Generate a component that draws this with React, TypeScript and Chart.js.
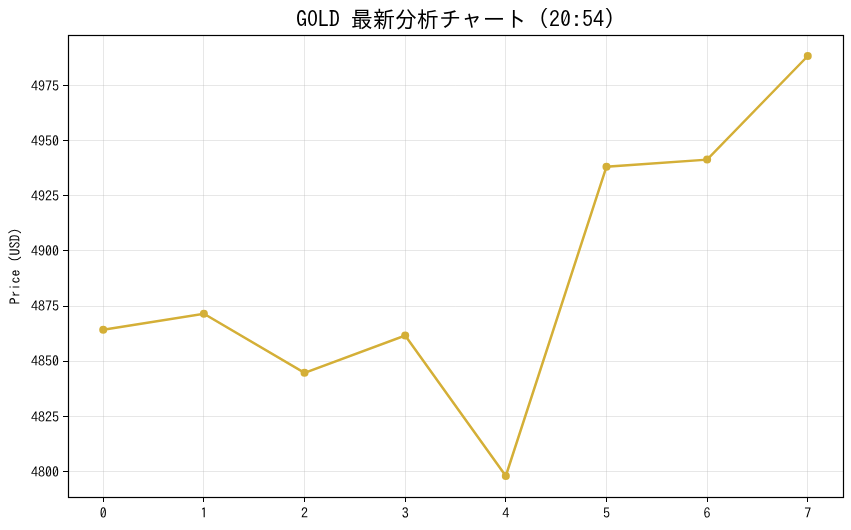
import React, { useEffect, useRef } from "react";
import { Chart, registerables } from "chart.js";

Chart.register(...registerables);

const titleText = "GOLD 最新分析チャート (20:54)";
const yAxisLabel = "Price (USD)";
const xValues = [0, 1, 2, 3, 4, 5, 6, 7];
const priceValues = [4864.2, 4871.5, 4844.7, 4861.6, 4797.9, 4938.2, 4941.4, 4988.4];
const yTickValues = [4800, 4825, 4850, 4875, 4900, 4925, 4950, 4975];
const xTickValues = [0, 1, 2, 3, 4, 5, 6, 7];

const FONT = "'IPAGothic', 'IPAexGothic', 'Noto Sans Mono CJK JP', 'Noto Sans CJK JP', sans-serif";
const GOLD = "#D4AF37";

export default function App() {
  const ref = useRef<HTMLCanvasElement | null>(null);

  useEffect(() => {
    if (!ref.current) return;
    const minV = Math.min(...priceValues);
    const maxV = Math.max(...priceValues);
    const m = (maxV - minV) * 0.05;
    const xMin = Math.min(...xValues);
    const xMax = Math.max(...xValues);
    const xm = (xMax - xMin) * 0.05;

    const decor = {
      id: "decor",
      afterDraw(chart: any) {
        const { ctx, chartArea } = chart;
        ctx.save();
        ctx.strokeStyle = "#000";
        ctx.lineWidth = 1.2;
        ctx.strokeRect(
          Math.round(chartArea.left) + 0.5,
          Math.round(chartArea.top) + 0.5,
          Math.round(chartArea.right - chartArea.left),
          Math.round(chartArea.bottom - chartArea.top)
        );
        ctx.fillStyle = "#000";
        ctx.font = `22px ${FONT}`;
        ctx.textAlign = "center";
        ctx.textBaseline = "middle";
        ctx.fillText(titleText, (chartArea.left + chartArea.right) / 2, 19);
        ctx.font = `14px ${FONT}`;
        ctx.translate(15, (chartArea.top + chartArea.bottom) / 2);
        ctx.rotate(-Math.PI / 2);
        ctx.fillText(yAxisLabel, 0, 0);
        ctx.restore();
      },
    };

    const chart = new Chart(ref.current, {
      type: "line",
      data: {
        datasets: [
          {
            data: xValues.map((x, i) => ({ x, y: priceValues[i] })),
            borderColor: GOLD,
            backgroundColor: GOLD,
            borderWidth: 2.5,
            pointRadius: 4,
            pointBackgroundColor: GOLD,
            pointBorderColor: GOLD,
            pointBorderWidth: 0,
            tension: 0,
          },
        ],
      },
      options: {
        animation: false,
        responsive: false,
        devicePixelRatio: 1,
        layout: { padding: { top: 35, right: 8, left: 0, bottom: 0 } },
        plugins: { legend: { display: false }, title: { display: false }, tooltip: { enabled: false } },
        scales: {
          x: {
            type: "linear",
            min: xMin - xm,
            max: xMax + xm,
            afterBuildTicks: (s: any) => {
              s.ticks = xTickValues.map((v) => ({ value: v }));
            },
            afterFit: (s: any) => {
              s.height = 33;
            },
            grid: { color: "rgba(176,176,176,0.3)", tickColor: "#000", tickLength: 5, drawTicks: true },
            border: { display: false },
            ticks: {
              color: "#000",
              font: { family: FONT, size: 14 },
              padding: 2,
              maxRotation: 0,
              autoSkip: false,
              callback: (v: any) => String(v),
            },
          },
          y: {
            type: "linear",
            min: minV - m,
            max: maxV + m,
            afterBuildTicks: (s: any) => {
              s.ticks = yTickValues.map((v) => ({ value: v }));
            },
            afterFit: (s: any) => {
              s.width = 68;
            },
            grid: { color: "rgba(176,176,176,0.3)", tickColor: "#000", tickLength: 5, drawTicks: true },
            border: { display: false },
            ticks: {
              color: "#000",
              font: { family: FONT, size: 14 },
              padding: 4,
              autoSkip: false,
              callback: (v: any) => String(v),
            },
          },
        },
      },
      plugins: [decor],
    });
    return () => chart.destroy();
  }, []);

  return (
    <div style={{ position: "fixed", left: 0, top: 0, width: 851, height: 530, background: "#fff" }}>
      <canvas ref={ref} width={851} height={530} style={{ width: 851, height: 530 }} />
    </div>
  );
}
